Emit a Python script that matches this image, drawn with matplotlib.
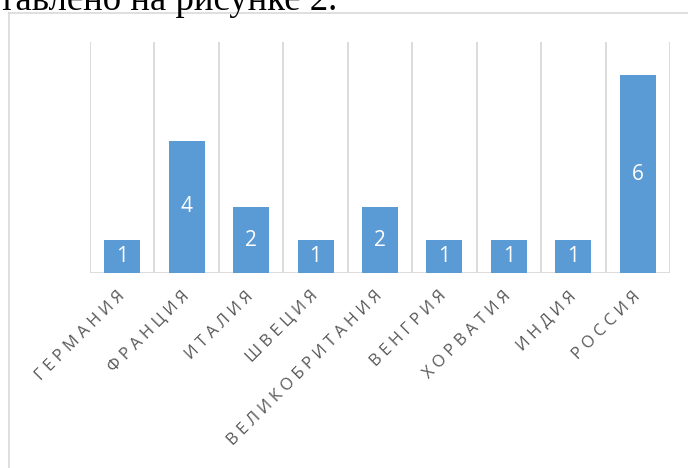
import matplotlib.pyplot as plt
from matplotlib.lines import Line2D

# Data
countries = ["ГЕРМАНИЯ", "ФРАНЦИЯ", "ИТАЛИЯ", "ШВЕЦИЯ", "ВЕЛИКОБРИТАНИЯ",
             "ВЕНГРИЯ", "ХОРВАТИЯ", "ИНДИЯ", "РОССИЯ"]
counts = [1, 4, 2, 1, 2, 1, 1, 1, 6]
caption = "тавлено на рисунке 2."

W, H = 688, 468
fig = plt.figure(figsize=(W / 100, H / 100), dpi=100)

grid_col = '#d9d9d9'
bar_col = '#5b9bd5'
label_col = '#595959'
fonts = ['Open Sans', 'DejaVu Sans']

# plot area in pixels
x0, x1, ytop, ybot = 90, 670, 42, 273
ax = fig.add_axes([x0 / W, 1 - ybot / H, (x1 - x0) / W, (ybot - ytop) / H])

xs = list(range(len(countries)))
ax.bar(xs, counts, width=0.56, color=bar_col, zorder=3)
ax.set_xlim(-0.5, len(countries) - 0.5)
ax.set_ylim(0, 7)

# vertical gridlines between categories
for b in range(len(countries) + 1):
    ax.axvline(b - 0.5, color=grid_col, linewidth=1.3, zorder=1)
ax.axhline(0, color=grid_col, linewidth=1.3, zorder=2)

for s in ax.spines.values():
    s.set_visible(False)
ax.set_yticks([])

# spaced-out category labels
spaced = [" ".join(c) for c in countries]
ax.set_xticks(xs)
ax.set_xticklabels(spaced, rotation=45, ha='right', va='center',
                   rotation_mode='anchor', color=label_col,
                   fontsize=12, family=fonts)
ax.tick_params(axis='x', length=0, pad=15)

# value labels inside bars
for x, v in zip(xs, counts):
    ax.text(x, v / 2, str(v), ha='center', va='center', color='white',
            fontsize=15, family=fonts, zorder=4)

# chart frame (partly outside the picture)
fig.add_artist(Line2D([9 / W, 9 / W], [0, 1 - 12.5 / H], color=grid_col,
                      linewidth=1.2, transform=fig.transFigure))
fig.add_artist(Line2D([9 / W, 1], [1 - 12.5 / H, 1 - 12.5 / H], color=grid_col,
                      linewidth=1.2, transform=fig.transFigure))

# piece of the document text above the chart
fig.text(-1 / W, 1 - 10 / H, caption, ha='left', va='baseline',
         fontsize=26.5, family=['Liberation Serif', 'DejaVu Serif'], color='black')

fig.savefig('out.png', dpi=100)
